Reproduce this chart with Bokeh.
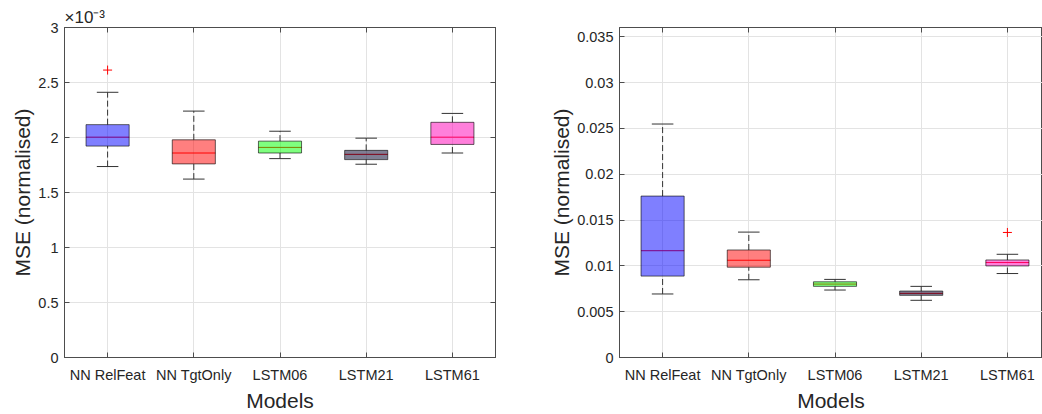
from bokeh.plotting import figure
from bokeh.layouts import row
from bokeh.models import ColumnDataSource, FixedTicker, LinearAxis, Range1d
from bokeh.embed import file_html
from bokeh.resources import INLINE

# ---------------- data ----------------
models = ["NN RelFeat", "NN TgtOnly", "LSTM06", "LSTM21", "LSTM61"]
box_colors = ["#0000FF", "#FF0000", "#00FF00", "#00002A", "#FF00B8"]

# left panel (values in units of 1e-3)
left_low = [1.736, 1.622, 1.808, 1.757, 1.859]
left_q1 = [1.922, 1.760, 1.859, 1.799, 1.937]
left_med = [2.003, 1.859, 1.910, 1.847, 2.003]
left_q3 = [2.117, 1.979, 1.967, 1.883, 2.138]
left_high = [2.411, 2.240, 2.057, 1.994, 2.219]
left_out_model = ["NN RelFeat"]
left_out_val = [2.613]
left_yticks = [0, 0.5, 1, 1.5, 2, 2.5, 3]
left_ytick_labels = ["0", "0.5", "1", "1.5", "2", "2.5", "3"]
left_exponent = "\u00d710\u207b\u00b3"

# right panel
right_low = [0.00693, 0.00848, 0.00736, 0.00624, 0.00916]
right_q1 = [0.00888, 0.00985, 0.00776, 0.00678, 0.00999]
right_med = [0.01165, 0.01061, 0.00801, 0.00700, 0.01036]
right_q3 = [0.01761, 0.01173, 0.00826, 0.00725, 0.01064]
right_high = [0.02547, 0.01368, 0.00852, 0.00776, 0.01126]
right_out_model = ["LSTM61"]
right_out_val = [0.01364]
right_yticks = [0, 0.005, 0.01, 0.015, 0.02, 0.025, 0.03, 0.035]
right_ytick_labels = ["0", "0.005", "0.01", "0.015", "0.02", "0.025", "0.03", "0.035"]

FONT = "Liberation Sans"
TXT = "#262626"
AXC = "#4d4d4d"
GRID = "#e3e3e3"


def make_panel(low, q1, med, q3, high, out_m, out_v, yticks, ylabels, ymax,
               width, mbl, mbr, xend, with_right_axis):
    xs = [i + 1 for i in range(len(models))]
    p = figure(width=width, height=414, output_backend="svg", toolbar_location=None,
               x_range=Range1d(0.5, xend), y_range=Range1d(0, ymax),
               min_border_left=mbl, min_border_right=mbr, min_border_top=27,
               min_border_bottom=54)
    p.background_fill_color = "white"
    p.border_fill_color = "white"
    p.outline_line_color = AXC
    p.outline_line_width = 1

    src = ColumnDataSource(dict(
        x=xs, low=low, q1=q1, med=med, q3=q3, high=high, color=box_colors,
        left=[x - 0.25 for x in xs], right=[x + 0.25 for x in xs],
        cl=[x - 0.125 for x in xs], cr=[x + 0.125 for x in xs]))

    # whiskers (dashed)
    p.segment(x0="x", y0="q3", x1="x", y1="high", source=src, line_color="#333333",
              line_width=1, line_dash="6 3")
    p.segment(x0="x", y0="low", x1="x", y1="q1", source=src, line_color="#333333",
              line_width=1, line_dash="6 3")
    # caps
    p.segment(x0="cl", y0="high", x1="cr", y1="high", source=src, line_color="#333333", line_width=1)
    p.segment(x0="cl", y0="low", x1="cr", y1="low", source=src, line_color="#333333", line_width=1)
    # median (under translucent fill)
    p.segment(x0="left", y0="med", x1="right", y1="med", source=src, line_color="#FF0000", line_width=1)
    # box
    p.quad(left="left", right="right", bottom="q1", top="q3", source=src,
           fill_color="color", fill_alpha=0.5, line_color="black", line_alpha=0.6, line_width=1)
    # outliers
    ox = [models.index(m) + 1 for m in out_m]
    p.scatter(ox, out_v, marker="cross", size=9, line_color="#FF0000", line_width=1)

    # axes
    p.xaxis.ticker = FixedTicker(ticks=xs)
    p.xaxis.major_label_overrides = {x: m for x, m in zip(xs, models)}
    p.yaxis.ticker = FixedTicker(ticks=yticks)
    p.yaxis.major_label_overrides = {t: l for t, l in zip(yticks, ylabels)}
    for ax in (p.xaxis[0], p.yaxis[0]):
        ax.axis_line_color = AXC
        ax.major_tick_line_color = AXC
        ax.major_tick_in = 5
        ax.major_tick_out = 0
        ax.minor_tick_line_color = None
        ax.major_label_text_font = FONT
        ax.major_label_text_font_size = "14.5px"
        ax.major_label_text_color = TXT
        ax.axis_label_text_font = FONT
        ax.axis_label_text_font_size = "21px"
        ax.axis_label_text_font_style = "normal"
        ax.axis_label_text_color = TXT
    p.xaxis.axis_label = "Models"
    p.yaxis.axis_label = "MSE (normalised)"
    p.xaxis.major_label_standoff = 9
    p.xaxis.axis_label_standoff = 3
    p.yaxis.major_label_standoff = 6
    p.yaxis.axis_label_standoff = 1

    # top axis (ticks only)
    top = LinearAxis(ticker=FixedTicker(ticks=xs), major_tick_in=5, major_tick_out=0,
                     major_label_overrides={x: "" for x in xs}, major_label_standoff=0,
                     axis_line_color=AXC, major_tick_line_color=AXC,
                     minor_tick_line_color=None)
    p.add_layout(top, "above")
    if with_right_axis:
        rgt = LinearAxis(ticker=FixedTicker(ticks=yticks), major_tick_in=5, major_tick_out=0,
                         major_label_overrides={t: "" for t in yticks}, major_label_standoff=0,
                         axis_line_color=AXC, major_tick_line_color=AXC,
                         minor_tick_line_color=None)
        p.add_layout(rgt, "right")

    p.xgrid.ticker = FixedTicker(ticks=xs)
    p.ygrid.ticker = FixedTicker(ticks=yticks)
    for g in (p.xgrid[0], p.ygrid[0]):
        g.grid_line_color = GRID
        g.grid_line_width = 1
    return p


p1 = make_panel(left_low, left_q1, left_med, left_q3, left_high, left_out_model, left_out_val,
                left_yticks, left_ytick_labels, 3.0, 520, 64, 25, 5.5, True)
# exponent of the y axis, shown as a left-aligned title
p1.title.text = left_exponent
p1.title.align = "left"
p1.title.text_font = FONT
p1.title.text_font_size = "17px"
p1.title.text_font_style = "normal"
p1.title.text_color = TXT
p1.title.offset = 0
p1.title.standoff = 1

p2 = make_panel(right_low, right_q1, right_med, right_q3, right_high, right_out_model, right_out_val,
                right_yticks, right_ytick_labels, 0.036, 522, 99, 0, 0.5 + 423 / 86.2, False)

layout = row(p1, p2, spacing=0)
open("out.html", "w").write(file_html(layout, INLINE))
